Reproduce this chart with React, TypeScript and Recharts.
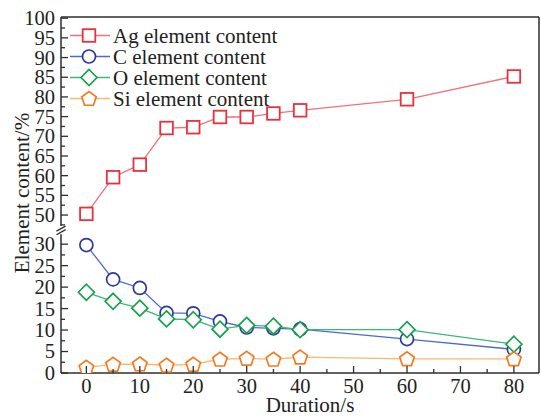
import React from 'react'
import { LineChart, Line, XAxis, YAxis, ReferenceLine } from 'recharts'

// values
const durations = [0, 5, 10, 15, 20, 25, 30, 35, 40, 60, 80]
const agContent = [50.3, 59.6, 62.8, 72.1, 72.3, 74.9, 74.9, 75.8, 76.6, 79.4, 85.2]
const cContent = [29.8, 21.8, 19.8, 14.0, 13.9, 12.0, 10.6, 10.4, 10.2, 7.9, 5.5]
const oContent = [18.8, 16.7, 15.1, 12.6, 12.4, 10.2, 11.1, 10.9, 10.1, 10.1, 6.7]
const siContent = [1.3, 2.0, 2.1, 1.8, 2.0, 3.2, 3.4, 3.2, 3.7, 3.3, 3.3]

const xTicks = [0, 5, 10, 15, 20, 25, 30, 35, 40, 45, 50, 55, 60, 65, 70, 75, 80]
const upperTicks = [47.5, 50, 52.5, 55, 57.5, 60, 62.5, 65, 67.5, 70, 72.5, 75, 77.5, 80, 82.5, 85, 87.5, 90, 92.5, 95, 97.5, 100]
const lowerTicks = [0, 2.5, 5, 7.5, 10, 12.5, 15, 17.5, 20, 22.5, 25, 27.5, 30]

const xDomain: [number, number] = [-4.75, 84.7]
const upperDomain: [number, number] = [46.2, 100.3]
const lowerDomain: [number, number] = [0, 33.3]

const FONT = '"Liberation Serif", "Times New Roman", serif'
const AXIS = '#2e2e2e'
const TEXT = '#222'

type Row = { duration: number; ag: number; c: number; o: number; si: number }
const rows: Row[] = durations.map((d, i) => ({
  duration: d,
  ag: agContent[i],
  c: cContent[i],
  o: oContent[i],
  si: siContent[i],
}))

type Shape = 'square' | 'circle' | 'diamond' | 'pentagon'

function Marker({ cx, cy, shape, color }: { cx: number; cy: number; shape: Shape; color: string }) {
  if (shape === 'square') {
    const s = 6.3
    return <rect x={cx - s} y={cy - s} width={2 * s} height={2 * s} fill="#fff" stroke={color} strokeWidth={1.8} />
  }
  if (shape === 'circle') {
    return <circle cx={cx} cy={cy} r={6.5} fill="#fff" stroke={color} strokeWidth={1.7} />
  }
  if (shape === 'diamond') {
    const h = 8
    return (
      <polygon
        points={`${cx},${cy - h} ${cx + h},${cy} ${cx},${cy + h} ${cx - h},${cy}`}
        fill="#fff"
        stroke={color}
        strokeWidth={1.7}
      />
    )
  }
  const r = 7.6
  const pts = [0, 1, 2, 3, 4]
    .map(k => {
      const a = ((-90 + k * 72) * Math.PI) / 180
      return `${cx + r * Math.cos(a)},${cy + 0.6 + r * Math.sin(a)}`
    })
    .join(' ')
  return <polygon points={pts} fill="#fff" stroke={color} strokeWidth={1.7} />
}

const seriesList = [
  { key: 'ag', name: 'Ag element content', shape: 'square' as Shape, marker: '#e8313d', line: '#f0727a' },
  { key: 'c', name: 'C element content', shape: 'circle' as Shape, marker: '#2b3a99', line: '#4a6bcb' },
  { key: 'o', name: 'O element content', shape: 'diamond' as Shape, marker: '#17a04e', line: '#3cb67a' },
  { key: 'si', name: 'Si element content', shape: 'pentagon' as Shape, marker: '#f47a22', line: '#fcb86e' },
]

const YTick = (props: any) => {
  const { x, y, payload } = props
  const v = payload.value as number
  const major = v % 5 === 0
  return (
    <g>
      <line x1={x} x2={x + (major ? 7 : 4)} y1={y} y2={y} stroke={AXIS} strokeWidth={1.3} />
      {major && (
        <text x={x - 6} y={y} dy="0.34em" textAnchor="end" fontFamily={FONT} fontSize={20.5} fill={TEXT}>
          {v}
        </text>
      )}
    </g>
  )
}

const XTick = (props: any) => {
  const { x, y, payload } = props
  const v = payload.value as number
  const major = v % 10 === 0
  return (
    <g>
      <line x1={x} x2={x} y1={y} y2={y - (major ? 7 : 4)} stroke={AXIS} strokeWidth={1.3} />
      {major && (
        <text x={x} y={y + 20} textAnchor="middle" fontFamily={FONT} fontSize={20.5} fill={TEXT}>
          {v}
        </text>
      )}
    </g>
  )
}

function renderLine(s: (typeof seriesList)[number]) {
  return (
    <Line
      key={s.key}
      type="linear"
      dataKey={s.key}
      stroke={s.line}
      strokeWidth={1.3}
      isAnimationActive={false}
      dot={(p: any) => <Marker key={`${s.key}-${p.index}`} cx={p.cx} cy={p.cy} shape={s.shape} color={s.marker} />}
    />
  )
}

function Legendbox() {
  return (
    <svg width={230} height={90} style={{ position: 'absolute', left: 68, top: 24, overflow: 'visible' }}>
      {seriesList.map((s, i) => {
        const cy = 11.5 + i * 21
        return (
          <g key={s.key}>
            <line x1={2} x2={42} y1={cy} y2={cy} stroke={s.line} strokeWidth={1.3} />
            <Marker cx={21} cy={cy} shape={s.shape} color={s.marker} />
            <text x={45} y={cy} dy="0.34em" fontFamily={FONT} fontSize={21} fill={TEXT}>
              {s.name}
            </text>
          </g>
        )
      })}
    </svg>
  )
}

export default function App() {
  return (
    <div style={{ position: 'absolute', left: 0, top: 0, width: 541, height: 417, background: '#fff' }}>
      {/* upper part of the broken axis: Ag */}
      <div style={{ position: 'absolute', left: 0, top: 0 }}>
        <LineChart width={541} height={240} data={rows} margin={{ top: 17, right: 2, bottom: 10, left: 0 }}>
          <XAxis dataKey="duration" type="number" domain={xDomain} allowDataOverflow hide />
          <YAxis
            type="number"
            domain={upperDomain}
            allowDataOverflow
            ticks={upperTicks}
            interval={0}
            width={61}
            axisLine={false}
            tickLine={false}
            tickSize={0}
            tickMargin={0}
            tick={(p: any) => <YTick {...p} />}
          />
          <ReferenceLine y={upperDomain[1]} stroke={AXIS} strokeWidth={1.5} ifOverflow="visible" />
          <ReferenceLine x={xDomain[1]} stroke={AXIS} strokeWidth={1.5} ifOverflow="visible" />
          <ReferenceLine
            segment={[{ x: xDomain[0], y: 47.2 }, { x: xDomain[0], y: upperDomain[1] }]}
            stroke={AXIS}
            strokeWidth={1.5}
            ifOverflow="visible"
          />
          {/* axis break marks */}
          <ReferenceLine
            segment={[{ x: -5.6, y: 45.9 }, { x: -3.9, y: 47.2 }]}
            stroke={AXIS}
            strokeWidth={1.3}
            ifOverflow="visible"
          />
          <ReferenceLine
            segment={[{ x: -5.6, y: 45.0 }, { x: -3.9, y: 46.3 }]}
            stroke={AXIS}
            strokeWidth={1.3}
            ifOverflow="visible"
          />
          {renderLine(seriesList[0])}
        </LineChart>
      </div>

      {/* lower part: C, O, Si */}
      <div style={{ position: 'absolute', left: 0, top: 230 }}>
        <LineChart width={541} height={187} data={rows} margin={{ top: 0, right: 2, bottom: 0, left: 0 }}>
          <XAxis
            dataKey="duration"
            type="number"
            domain={xDomain}
            allowDataOverflow
            ticks={xTicks}
            interval={0}
            height={44}
            axisLine={{ stroke: AXIS, strokeWidth: 1.5 }}
            tickLine={false}
            tickSize={0}
            tickMargin={0}
            tick={(p: any) => <XTick {...p} />}
          />
          <YAxis
            type="number"
            domain={lowerDomain}
            allowDataOverflow
            ticks={lowerTicks}
            interval={0}
            width={61}
            axisLine={false}
            tickLine={false}
            tickSize={0}
            tickMargin={0}
            tick={(p: any) => <YTick {...p} />}
          />
          <ReferenceLine x={xDomain[1]} stroke={AXIS} strokeWidth={1.5} ifOverflow="visible" />
          <ReferenceLine
            segment={[{ x: xDomain[0], y: 0 }, { x: xDomain[0], y: 32.3 }]}
            stroke={AXIS}
            strokeWidth={1.5}
            ifOverflow="visible"
          />
          {seriesList.slice(1).map(renderLine)}
        </LineChart>
      </div>

      <Legendbox />

      <svg width={541} height={417} style={{ position: 'absolute', left: 0, top: 0, pointerEvents: 'none' }}>
        <text
          transform="translate(28.5,193) rotate(-90)"
          textAnchor="middle"
          fontFamily={FONT}
          fontSize={21}
          fill={TEXT}
        >
          Element content/%
        </text>
        <text x={310} y={411.5} textAnchor="middle" fontFamily={FONT} fontSize={21} fill={TEXT}>
          Duration/s
        </text>
      </svg>
    </div>
  )
}
